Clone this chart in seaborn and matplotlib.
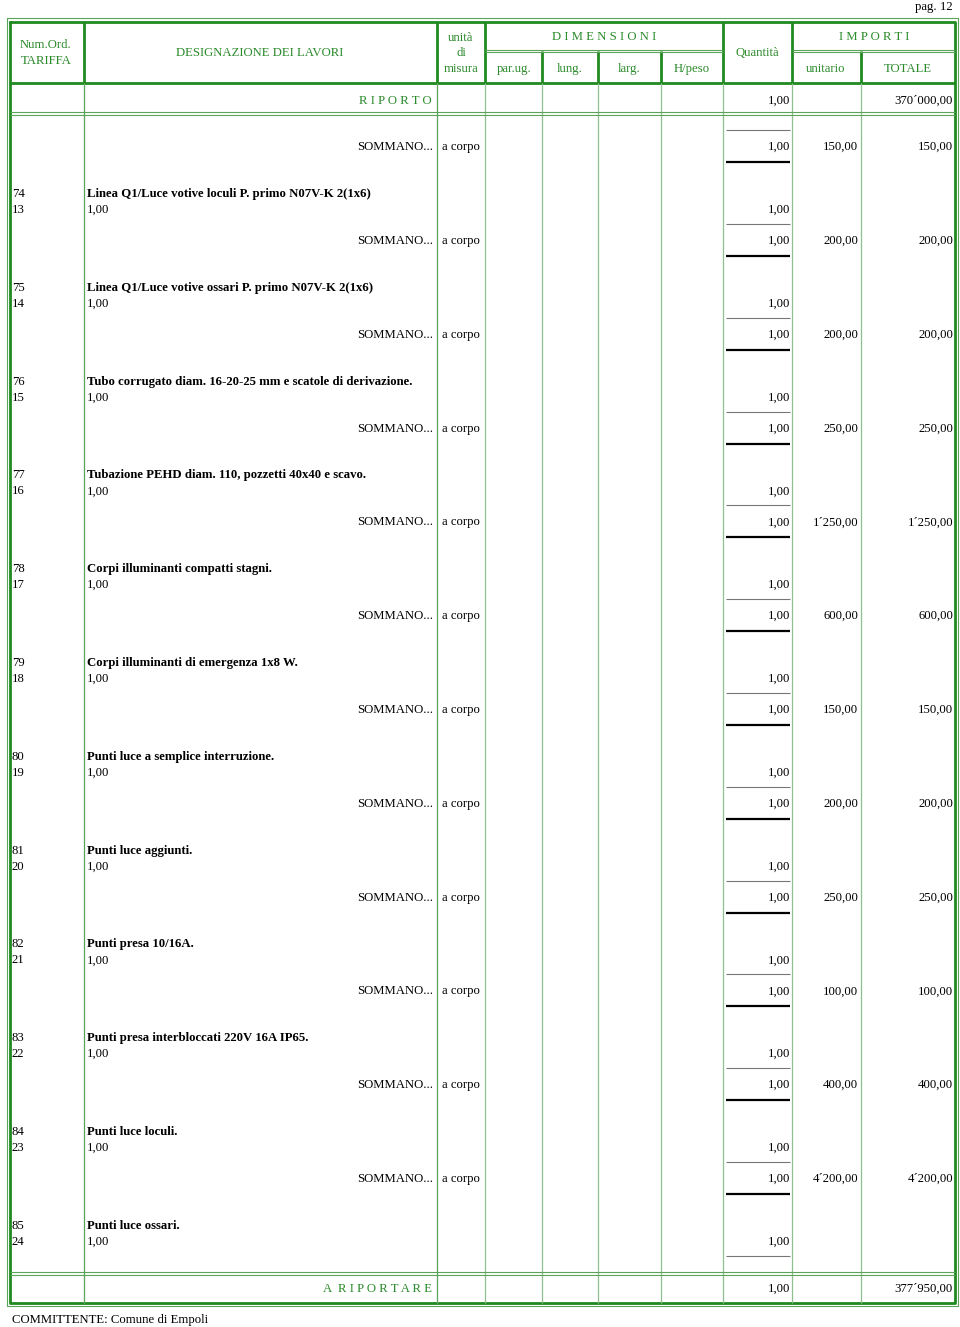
import matplotlib
matplotlib.use("Agg")
import matplotlib.pyplot as plt
import seaborn as sns

sns.set_theme(style="white")
plt.rcParams['font.family'] = ['Liberation Serif', 'DejaVu Serif']

# ---------------- data ----------------
num_ord = ["74", "75", "76", "77", "78", "79", "80", "81", "82", "83", "84", "85"]
tariffa = ["13", "14", "15", "16", "17", "18", "19", "20", "21", "22", "23", "24"]
descrizioni = [
    "Linea Q1/Luce votive loculi P. primo N07V-K 2(1x6)",
    "Linea Q1/Luce votive ossari P. primo N07V-K 2(1x6)",
    "Tubo corrugato diam. 16-20-25 mm e scatole di derivazione.",
    "Tubazione PEHD diam. 110, pozzetti 40x40 e scavo.",
    "Corpi illuminanti compatti stagni.",
    "Corpi illuminanti di emergenza 1x8 W.",
    "Punti luce a semplice interruzione.",
    "Punti luce aggiunti.",
    "Punti presa 10/16A.",
    "Punti presa interbloccati 220V 16A IP65.",
    "Punti luce loculi.",
    "Punti luce ossari.",
]
quantita = [1.0] * 12
prezzi_unitari = [200.0, 200.0, 250.0, 1250.0, 600.0, 150.0, 200.0, 250.0, 100.0, 400.0, 4200.0, None]
importi = [200.0, 200.0, 250.0, 1250.0, 600.0, 150.0, 200.0, 250.0, 100.0, 400.0, 4200.0, None]
prev_quantita, prev_unitario, prev_importo = 1.0, 150.0, 150.0
riporto = 370000.0
a_riportare = 377950.0
committente = "COMMITTENTE: Comune di Empoli"
pagina = "pag. 12"


def fmt(v):
    s = f"{v:,.2f}"
    return s.replace(",", "X").replace(".", ",").replace("X", "\u00b4")


# ---------------- layout ----------------
W, H = 960, 1327
fig = plt.figure(figsize=(9.6, 13.27), dpi=100)
ax = fig.add_axes([0, 0, 1, 1])
ax.set_xlim(0, W)
ax.set_ylim(H, 0)
ax.axis("off")

GREEN_T = "#2b8a2b"
GREEN_K = "#1f8a1f"
GREEN_L = "#8fbf8f"
GREEN_M = "#5aa55a"
FS = 9.2
DY = 1.0

L, R = 9.5, 955
TOP, HB, RB, FT, BOT = 22, 83, 113.5, 1273.5, 1303
cols = [84, 437, 485, 542, 598, 661, 723, 792, 861]

# outer thin frame
ax.plot([7, 958, 958, 7, 7], [18, 18, 1306, 1306, 18], color=GREEN_M, lw=0.8)
# inner thick frame
ax.plot([L, R, R, L, L], [TOP, TOP, BOT, BOT, TOP], color=GREEN_K, lw=2.0)
# header bottom
ax.hlines(HB, L, R, color=GREEN_K, lw=2.0)
# header verticals
ax.vlines([84, 437, 485, 723, 792], TOP, HB, color=GREEN_K, lw=2.0)
ax.vlines([542, 598, 661, 861], 51, HB, color=GREEN_K, lw=2.0)
# double lines under group titles
for y in (49.5, 52):
    ax.hlines(y, 485, 723, color=GREEN_M, lw=0.8)
    ax.hlines(y, 792, R, color=GREEN_M, lw=0.8)
# body verticals
ax.vlines(cols, HB, BOT, color=GREEN_L, lw=0.9)
ax.vlines([84, 437], HB, BOT, color=GREEN_M, lw=0.8)
# double lines (riporto / a riportare)
for y in (RB - 1.5, RB + 1.5, FT - 1.5, FT + 1.5):
    ax.hlines(y, L, R, color=GREEN_M, lw=0.8)


def txt(x, y, s, ha="left", color="black", **kw):
    ax.text(x, y + DY, s, ha=ha, va="center", fontsize=FS, color=color, **kw)


def htxt(x, y, s, ha="center"):
    txt(x, y, s, ha=ha, color=GREEN_T)


htxt(46, 44, "Num.Ord.")
htxt(46, 60, "TARIFFA")
htxt(260, 52, "DESIGNAZIONE DEI LAVORI")
htxt(461, 37, "unità")
htxt(461, 52, "di")
htxt(461, 68, "misura")
htxt(604, 36, "D I M E N S I O N I")
htxt(514, 68, "par.ug.")
htxt(570, 68, "lung.")
htxt(629, 68, "larg.")
htxt(692, 68, "H/peso")
htxt(757, 52, "Quantità")
htxt(874, 36, "I M P O R T I")
htxt(826, 68, "unitario")
htxt(908, 68, "TOTALE")

txt(953, 6, pagina, ha="right")

# riporto row
txt(432, 100, "R I P O R T O", ha="right", color=GREEN_T)
txt(790, 100, fmt(1.0), ha="right")
txt(953, 100, fmt(riporto), ha="right")


def sommano(y, q, pu, imp):
    ax.hlines(y - 16, 726, 790, color="#777777", lw=0.8)
    txt(433, y, "SOMMANO...", ha="right")
    txt(442, y, "a corpo", ha="left")
    txt(790, y, fmt(q), ha="right")
    txt(858, y, fmt(pu), ha="right")
    txt(953, y, fmt(imp), ha="right")
    ax.hlines(y + 16, 726, 790, color="black", lw=1.6)


# previous item closing
sommano(146, prev_quantita, prev_unitario, prev_importo)

for k in range(len(num_ord)):
    y0 = 193 + 93.8 * k
    txt(12, y0, num_ord[k])
    txt(12, y0 + 16, tariffa[k])
    txt(87, y0, descrizioni[k], fontweight="bold")
    txt(87, y0 + 16, fmt(quantita[k]))
    txt(790, y0 + 16, fmt(quantita[k]), ha="right")
    if importi[k] is not None:
        sommano(y0 + 47, quantita[k], prezzi_unitari[k], importi[k])
    else:
        ax.hlines(y0 + 31, 726, 790, color="#777777", lw=0.8)

# a riportare row
txt(432, 1288, "A  R I P O R T A R E", ha="right", color=GREEN_T)
txt(790, 1288, fmt(1.0), ha="right")
txt(953, 1288, fmt(a_riportare), ha="right")

txt(12, 1319, committente)

fig.savefig("out.png", dpi=100, facecolor="white")
